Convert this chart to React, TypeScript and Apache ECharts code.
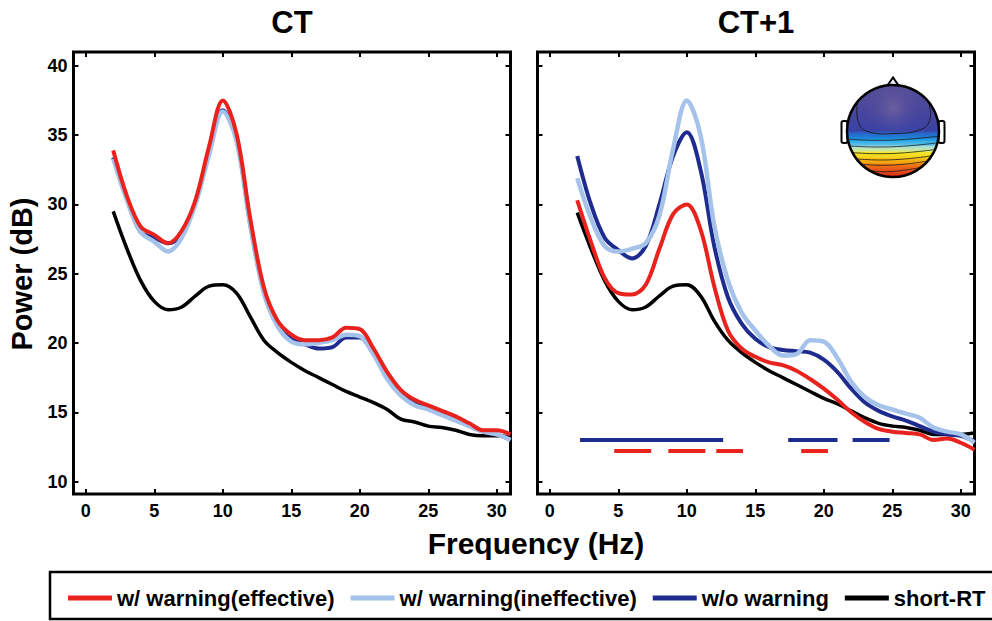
import React, { useEffect, useRef } from "react";
import * as echarts from "echarts";

// ---------- data ----------
const freqs = [2, 3, 4, 5, 6, 7, 8, 9, 10, 11, 12, 13, 14, 15, 16, 17, 18, 19, 20, 21, 22, 23, 24, 25, 26, 27, 28, 29, 30, 31];

// CT panel
const ctEffective = [33.9, 30.6, 28.4, 27.8, 27.2, 28.1, 30.3, 34.2, 37.5, 35.1, 29.0, 24.0, 21.6, 20.6, 20.2, 20.2, 20.4, 21.1, 21.0, 19.6, 17.9, 16.6, 15.9, 15.5, 15.1, 14.7, 14.2, 13.7, 13.7, 13.4];
const ctIneffective = [33.3, 30.3, 28.0, 27.3, 26.6, 27.6, 30.0, 33.6, 36.7, 34.6, 28.5, 23.6, 21.2, 20.1, 19.9, 20.0, 20.2, 20.6, 20.5, 19.2, 17.4, 16.2, 15.5, 15.2, 14.8, 14.4, 14.0, 13.6, 13.4, 13.0];
const ctNoWarning = [33.4, 30.4, 28.0, 27.6, 27.2, 27.9, 30.1, 33.8, 36.8, 34.7, 28.6, 23.7, 21.3, 20.3, 19.9, 19.6, 19.7, 20.4, 20.4, 19.2, 17.6, 16.4, 15.7, 15.3, 14.9, 14.5, 14.0, 13.6, 13.4, 13.0];
const ctShortRT = [29.5, 26.8, 24.5, 23.0, 22.4, 22.6, 23.4, 24.1, 24.2, 23.6, 21.9, 20.2, 19.3, 18.6, 18.0, 17.5, 17.0, 16.5, 16.1, 15.7, 15.2, 14.5, 14.3, 14.0, 13.9, 13.7, 13.4, 13.3, 13.3, 13.2];

// CT+1 panel
const ct1Effective = [30.3, 27.3, 24.7, 23.6, 23.5, 24.2, 26.8, 29.3, 30.0, 28.2, 24.1, 20.9, 19.6, 19.0, 18.6, 18.4, 18.0, 17.4, 16.7, 15.9, 15.0, 14.3, 13.8, 13.6, 13.5, 13.4, 13.0, 13.1, 12.8, 12.3];
const ct1Ineffective = [31.9, 29.0, 27.0, 26.6, 26.8, 27.2, 29.2, 34.0, 37.5, 35.0, 28.5, 24.5, 22.2, 20.9, 19.8, 19.1, 19.2, 20.2, 20.1, 18.9, 17.2, 16.1, 15.5, 15.2, 14.9, 14.6, 13.9, 13.6, 13.4, 12.8];
const ct1NoWarning = [33.5, 30.0, 27.6, 26.7, 26.1, 27.0, 30.0, 33.5, 35.2, 32.5, 27.0, 23.3, 21.4, 20.3, 19.7, 19.5, 19.4, 19.3, 18.8, 17.9, 16.7, 15.7, 15.1, 14.7, 14.4, 14.0, 13.6, 13.4, 13.3, 12.9];
const ct1ShortRT = [29.4, 26.8, 24.5, 23.0, 22.4, 22.6, 23.4, 24.1, 24.2, 23.4, 21.6, 20.2, 19.3, 18.6, 18.0, 17.5, 17.0, 16.5, 16.0, 15.6, 15.1, 14.6, 14.2, 14.0, 13.9, 13.7, 13.4, 13.4, 13.4, 13.5];

// significance bars (CT+1), frequency ranges
const sigBlueRanges = [[2.2, 12.65], [17.4, 21.0], [22.1, 24.8]];
const sigRedRanges = [[4.7, 7.4], [8.65, 11.35], [12.15, 14.1], [18.35, 20.3]];
const sigBlueLevel = 13.0;
const sigRedLevel = 12.2;

const xTicks = [0, 5, 10, 15, 20, 25, 30];
const yTicks = [10, 15, 20, 25, 30, 35, 40];
const panelTitles = ["CT", "CT+1"];
const seriesNames = ["w/ warning(effective)", "w/ warning(ineffective)", "w/o warning", "short-RT"];

// ---------- styles ----------
const FONT = "'Liberation Sans', Arial, Helvetica, sans-serif";
const COLORS: Record<string, string> = {
  "w/ warning(effective)": "#e8231e",
  "w/ warning(ineffective)": "#a4c2ea",
  "w/o warning": "#1f2c8f",
  "short-RT": "#000000",
};
const WIDTHS: Record<string, number> = {
  "w/ warning(effective)": 4,
  "w/ warning(ineffective)": 4.5,
  "w/o warning": 4,
  "short-RT": 3.5,
};

const GRID_W = 437;
const GRID_H = 442;
const GRID_TOP = 52;
const GRID_LEFTS = [73.5, 537.5];

function buildOption() {
  const grids = GRID_LEFTS.map((left) => ({
    left,
    top: GRID_TOP,
    width: GRID_W,
    height: GRID_H,
    show: true,
    borderColor: "#000",
    borderWidth: 3,
    backgroundColor: "#fff",
  }));

  const xAxes: any[] = [];
  const yAxes: any[] = [];
  [0, 1].forEach((g) => {
    ["bottom", "top"].forEach((pos) => {
      xAxes.push({
        type: "value",
        gridIndex: g,
        position: pos,
        min: -0.9,
        max: 31,
        axisLine: { show: false, onZero: false },
        splitLine: { show: false },
        axisTick: {
          show: true,
          inside: true,
          length: 5,
          customValues: xTicks,
          lineStyle: { color: "#000", width: 2 },
        },
        axisLabel: {
          show: pos === "bottom",
          customValues: xTicks,
          fontFamily: FONT,
          fontSize: 18,
          fontWeight: "bold",
          color: "#000",
          margin: 8,
        },
      });
    });
    ["left", "right"].forEach((pos) => {
      yAxes.push({
        type: "value",
        gridIndex: g,
        position: pos,
        min: 9.1,
        max: 41,
        axisLine: { show: false, onZero: false },
        splitLine: { show: false },
        axisTick: {
          show: true,
          inside: true,
          length: 5,
          customValues: yTicks,
          lineStyle: { color: "#000", width: 2 },
        },
        axisLabel: {
          show: g === 0 && pos === "left",
          customValues: yTicks,
          fontFamily: FONT,
          fontSize: 18,
          fontWeight: "bold",
          color: "#000",
          margin: 6,
        },
      });
    });
  });

  const panels = [
    {
      "w/ warning(effective)": ctEffective,
      "w/ warning(ineffective)": ctIneffective,
      "w/o warning": ctNoWarning,
      "short-RT": ctShortRT,
    },
    {
      "w/ warning(effective)": ct1Effective,
      "w/ warning(ineffective)": ct1Ineffective,
      "w/o warning": ct1NoWarning,
      "short-RT": ct1ShortRT,
    },
  ];
  const drawOrder = ["short-RT", "w/o warning", "w/ warning(ineffective)", "w/ warning(effective)"];

  const series: any[] = [];
  panels.forEach((panel: any, p) => {
    drawOrder.forEach((name, k) => {
      series.push({
        type: "line",
        name,
        xAxisIndex: p * 2,
        yAxisIndex: p * 2,
        data: freqs.map((f, i) => [f, panel[name][i]]),
        showSymbol: false,
        smooth: 0.35,
        clip: true,
        z: 2 + k,
        color: COLORS[name],
        itemStyle: { color: COLORS[name] },
        lineStyle: { color: COLORS[name], width: WIDTHS[name], cap: "butt" },
      });
    });
  });

  const addBars = (ranges: number[][], level: number, color: string, tag: string) => {
    ranges.forEach((r, i) => {
      series.push({
        type: "line",
        name: `${tag}-${i}`,
        xAxisIndex: 2,
        yAxisIndex: 2,
        data: [[r[0], level], [r[1], level]],
        showSymbol: false,
        silent: true,
        z: 10,
        lineStyle: { color, width: 4, cap: "butt" },
      });
    });
  };
  addBars(sigBlueRanges, sigBlueLevel, COLORS["w/o warning"], "sig-blue");
  addBars(sigRedRanges, sigRedLevel, COLORS["w/ warning(effective)"], "sig-red");

  // topographic head map
  const cx = 893;
  const cy = 131;
  const r = 46;
  const halfW = (y: number) => Math.max(0, Math.sqrt(Math.max(0, r * r - (y - cy) * (y - cy))) - 0.8);
  const contourYs = [138.3, 145, 151.7, 158, 163.3, 169.7];
  const contours = contourYs.map((y0) => ({
    type: "polyline",
    silent: true,
    shape: {
      smooth: 0.4,
      points: [
        [cx - halfW(y0 + 1), y0 + 1],
        [cx - 0.4 * halfW(y0), y0 + 2],
        [cx + 0.25 * halfW(y0), y0 + 1.2],
        [cx + halfW(y0 - 2), y0 - 2],
      ],
    },
    style: { stroke: "#1a1a1a", lineWidth: 0.8, fill: null },
  }));
  const blob = {
    type: "polyline",
    silent: true,
    shape: {
      smooth: 0.45,
      points: [
        [cx - halfW(103), 103],
        [858, 121],
        [866, 131],
        [895, 133.5],
        [922, 129],
        [930, 119],
        [cx + halfW(103), 103],
      ],
    },
    style: { stroke: "#1a1a1a", lineWidth: 0.9, fill: null },
  };

  const headGradient = new echarts.graphic.LinearGradient(0, 0, 0, 1, [
    { offset: 0, color: "#554f96" },
    { offset: 0.25, color: "#4a469c" },
    { offset: 0.5, color: "#3a42a4" },
    { offset: 0.52, color: "#2a62c8" },
    { offset: 0.58, color: "#1e86d8" },
    { offset: 0.6, color: "#25a6e6" },
    { offset: 0.65, color: "#59c0e8" },
    { offset: 0.67, color: "#a8dedc" },
    { offset: 0.72, color: "#d8ec80" },
    { offset: 0.735, color: "#f3e626" },
    { offset: 0.79, color: "#f6d21c" },
    { offset: 0.8, color: "#f6bd16" },
    { offset: 0.85, color: "#f3a012" },
    { offset: 0.86, color: "#f07c12" },
    { offset: 0.92, color: "#e8561a" },
    { offset: 1, color: "#d8261a" },
  ]);

  const graphic: any[] = [
    // panel titles
    ...panelTitles.map((t, i) => ({
      type: "text",
      x: GRID_LEFTS[i] + GRID_W / 2,
      y: 22,
      style: {
        text: t,
        font: `bold 31px ${FONT}`,
        fill: "#000",
        align: "center",
        verticalAlign: "middle",
      },
    })),
    // axis names
    {
      type: "text",
      x: 22,
      y: 274,
      rotation: Math.PI / 2,
      style: {
        text: "Power (dB)",
        font: `bold 29px ${FONT}`,
        fill: "#000",
        align: "center",
        verticalAlign: "middle",
      },
    },
    {
      type: "text",
      x: 536,
      y: 543,
      style: {
        text: "Frequency (Hz)",
        font: `bold 30px ${FONT}`,
        fill: "#000",
        align: "center",
        verticalAlign: "middle",
      },
    },
    // legend frame
    {
      type: "rect",
      silent: true,
      shape: { x: 50, y: 572, width: 970, height: 47 },
      style: { fill: null, stroke: "#000", lineWidth: 2.5 },
    },
    // head: nose, ears
    {
      type: "polygon",
      silent: true,
      z: 20,
      shape: { points: [[885, 89], [893, 77.5], [901, 89]] },
      style: { fill: "#fff", stroke: "#000", lineWidth: 2 },
    },
    {
      type: "rect",
      silent: true,
      z: 20,
      shape: { x: 841.5, y: 121, width: 6, height: 22, r: 2 },
      style: { fill: "#fff", stroke: "#000", lineWidth: 2 },
    },
    {
      type: "rect",
      silent: true,
      z: 20,
      shape: { x: 938.5, y: 121, width: 6, height: 22, r: 2 },
      style: { fill: "#fff", stroke: "#000", lineWidth: 2 },
    },
    {
      type: "circle",
      silent: true,
      z: 21,
      shape: { cx, cy, r },
      style: { fill: headGradient, stroke: null },
    },
    {
      type: "circle",
      silent: true,
      z: 22,
      shape: { cx: 893, cy: 108, r: 30 },
      style: {
        fill: new echarts.graphic.RadialGradient(0.5, 0.5, 0.5, [
          { offset: 0, color: "rgba(140,120,160,0.5)" },
          { offset: 1, color: "rgba(80,75,160,0)" },
        ]),
      },
    },
    { ...blob, z: 23 },
    ...contours.map((c) => ({ ...c, z: 23 })),
    {
      type: "circle",
      silent: true,
      z: 24,
      shape: { cx, cy, r },
      style: { fill: null, stroke: "#000", lineWidth: 2.5 },
    },
  ];

  return {
    animation: false,
    backgroundColor: "#fff",
    textStyle: { fontFamily: FONT },
    grid: grids,
    xAxis: xAxes,
    yAxis: yAxes,
    legend: {
      data: seriesNames.map((n) => ({ name: n, icon: "rect", itemStyle: { color: COLORS[n] } })),
      left: 63,
      top: 582,
      itemWidth: 44,
      itemHeight: 5,
      itemGap: 16,
      selectedMode: false,
      textStyle: { fontFamily: FONT, fontSize: 22, fontWeight: "bold", color: "#000" },
    },
    series,
    graphic,
  };
}

export default function App() {
  const ref = useRef<HTMLDivElement>(null);
  useEffect(() => {
    if (!ref.current) return;
    const chart = echarts.init(ref.current, null, { renderer: "svg" });
    chart.setOption(buildOption() as any);
    return () => {
      chart.dispose();
    };
  }, []);
  return (
    <div
      ref={ref}
      style={{ position: "fixed", left: 0, top: 0, width: 992, height: 621, background: "#fff" }}
    />
  );
}
